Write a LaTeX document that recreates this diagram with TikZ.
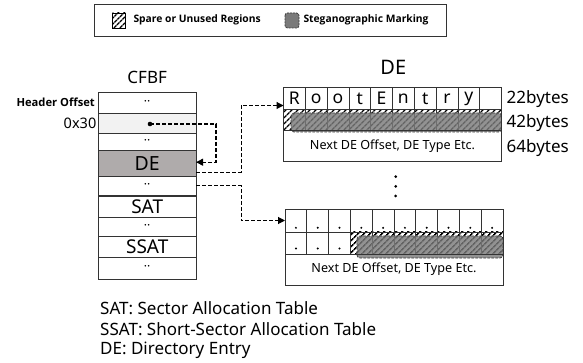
\documentclass[tikz,border=0pt]{standalone}
\usepackage{fontspec}
\setmainfont{Noto Sans}
\newfontfamily\boldsans{Open Sans}
\usetikzlibrary{arrows.meta,patterns.meta}
\definecolor{lightrow}{HTML}{F2F2F2}
\definecolor{derow}{HTML}{AFABAB}
\definecolor{markgray}{HTML}{7A7A7A}
\definecolor{markline}{HTML}{3A3A3A}
\definecolor{boxline}{HTML}{333333}
\begin{document}
\begin{tikzpicture}[x=1pt,y=-1pt,
  rowbox/.style={draw=boxline,line width=0.9pt,minimum width=97.7pt,inner sep=0pt,outer sep=0pt},
  cellbox/.style={draw=boxline,line width=0.8pt,minimum width=21.8pt,minimum height=22pt,inner sep=0pt,outer sep=0pt,font=\fontsize{17.5}{17.5}\selectfont},
  cellbox2/.style={draw=boxline,line width=0.8pt,minimum width=21.8pt,inner sep=0pt,outer sep=0pt},
  widebox/.style={draw=boxline,line width=0.9pt,minimum width=218pt,inner sep=0pt,outer sep=0pt,font=\fontsize{12.6}{12.6}\selectfont},
  conn/.style={draw=black,line width=1.1pt,dash pattern=on 4pt off 2pt,-{Triangle[length=7pt,width=7pt]}},
  hatch/.style={pattern={Lines[angle=45,distance=4pt,line width=1.6pt]}},
  marking/.style={fill=markgray,fill opacity=0.82,draw=markline,line width=0.8pt,dash pattern=on 2.5pt off 1.5pt,rounded corners=3pt},
  dotrow/.style={font=\fontsize{12}{12}\selectfont},
  bigtext/.style={font=\fontsize{19}{19}\selectfont},
  bytes/.style={anchor=west,font=\fontsize{17}{17}\selectfont,inner sep=0pt},
  note/.style={anchor=west,font=\fontsize{17}{17}\selectfont,inner sep=0pt},
  boldlabel/.style={font=\boldsans\bfseries\fontsize{10.3}{10.3}\selectfont,inner sep=0pt}
]
\useasboundingbox (0,0) rectangle (583,363);

% legend
\node[draw=boxline,line width=0.9pt,minimum width=352.5pt,minimum height=32pt,inner sep=0pt] (legend) at (270.3,20) {};
\draw[hatch,draw=black,line width=0.8pt] (112.5,13) rectangle (125.5,28);
\node[boldlabel,anchor=west] (legspare) at (133.3,20) {Spare or Unused Regions};
\draw[fill=markgray,draw=markline,line width=0.8pt,dash pattern=on 2pt off 1pt,rounded corners=2.5pt] (285,13) rectangle (299,28);
\node[boldlabel,anchor=west] (legsteg) at (303.3,20) {Steganographic Marking};

% CFBF column
\node[font=\fontsize{17}{17}\selectfont] (cfbftitle) at (147.2,77) {CFBF};
\node[rowbox,minimum height=21pt,dotrow] (r1) at (147.2,102.8) {··};
\node[rowbox,minimum height=20pt,fill=lightrow] (r2) at (147.2,123.3) {};
\node[rowbox,minimum height=17.4pt,dotrow] (r3) at (147.2,142) {··};
\node[rowbox,minimum height=26pt,fill=derow,font=\fontsize{19.5}{19.5}\selectfont] (r4) at (147.2,163.7) {DE};
\node[rowbox,minimum height=18.3pt,dotrow] (r5) at (147.2,185.9) {··};
\node[rowbox,minimum height=20.6pt,bigtext] (r6) at (147.2,207) {SAT};
\node[rowbox,minimum height=19.4pt,dotrow] (r7) at (147.2,227) {··};
\node[rowbox,minimum height=20.6pt,bigtext] (r8) at (147.2,247) {SSAT};
\node[rowbox,minimum height=21.7pt,dotrow] (r9) at (147.2,268.2) {··};
\node[boldlabel,anchor=east,font=\boldsans\bfseries\fontsize{11.2}{11.2}\selectfont] (hdr) at (95,102) {Header Offset};
\node[anchor=east,font=\fontsize{14.5}{14.5}\selectfont,inner sep=0pt] (off) at (96.5,123) {0x30};
\coordinate (ptr) at (150,124);
\fill (ptr) circle (2.3pt);

% DE box 1
\node[font=\fontsize{20}{20}\selectfont] (detitle) at (393.3,67) {DE};
\draw[hatch] (283.5,109.5) rectangle (501.5,130.5);
\foreach \i in {1,...,9} \draw[boxline,line width=0.8pt] (283.5+21.8*\i,109.5) -- (283.5+21.8*\i,130.5);
\foreach \i/\t in {1/R,2/o,3/o,4/t,5/E,6/n,7/t,8/r,9/y,10/{}}
  \node[cellbox] (k\i) at (283.5+21.8*\i-10.9,98.5) {\t};
\draw[marking] (291,113) rectangle (501.5,132);
\node[widebox,minimum height=31pt] (n1) at (392.5,146) {Next DE Offset, DE Type Etc.};
\draw[boxline,line width=0.9pt] (283.5,87.5) rectangle (501.5,161.5);
\node[bytes] (b22) at (506.5,99.3) {22bytes};
\node[bytes] (b42) at (506.5,122.7) {42bytes};
\node[bytes] (b64) at (506.5,148.3) {64bytes};

% vertical ellipsis
\foreach \y in {176.7,186.3,196} \fill (395.7,\y) circle (1.5pt);

% DE box 2
\draw[hatch] (350.4,232) rectangle (503,254);
\foreach \i in {4,...,9} \draw[boxline,line width=0.8pt] (285+21.8*\i,232) -- (285+21.8*\i,254);
\foreach \i in {1,...,10} {
  \node[cellbox2,minimum height=23pt] (m\i) at (285+21.8*\i-10.9,220.5) {};
  \fill (285+21.8*\i-10.9,227.8) circle (1.1pt);
}
\foreach \i in {1,2,3} {
  \node[cellbox2,minimum height=22pt] (p\i) at (285+21.8*\i-10.9,243) {};
  \fill (285+21.8*\i-10.9,248.5) circle (1.1pt);
}
\draw[marking] (357,236) rectangle (503,258);
\node[widebox,minimum height=31pt] (n2) at (394,269.5) {Next DE Offset, DE Type Etc.};
\draw[boxline,line width=0.9pt] (285,209) rectangle (503,285);

% connectors
\draw[conn] (ptr) -- ++(66,0) |- ([yshift=1.5pt]r4.east);
\draw[conn] ([yshift=-8.5pt]r4.east) -- ++(45,0) |- ([yshift=-7pt]k1.west);
\draw[conn] (r5.east) -- ++(45,0) |- (m1.west);

% notes
\node[note] (note1) at (100,308.3) {SAT: Sector Allocation Table};
\node[note] (note2) at (100,329.5) {SSAT: Short-Sector Allocation Table};
\node[note] (note3) at (100,350) {DE: Directory Entry};
\end{tikzpicture}
\end{document}
